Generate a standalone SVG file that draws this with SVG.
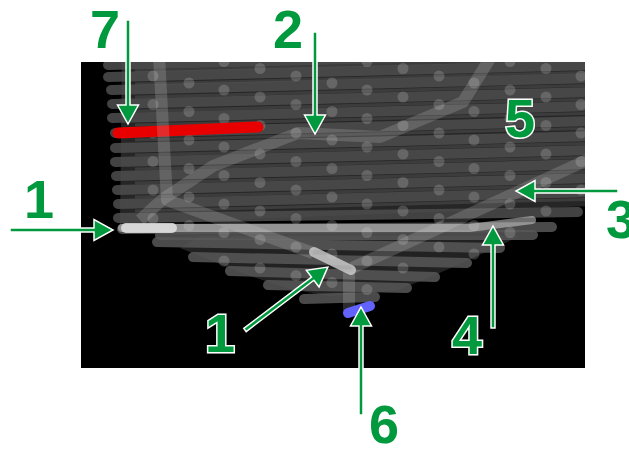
<svg xmlns="http://www.w3.org/2000/svg" width="629" height="449" viewBox="0 0 629 449">
<defs>
<clipPath id="clip"><rect x="81" y="62" width="504" height="306"/></clipPath>
<style>
.row{stroke:#4e4e4e;stroke-width:10;stroke-linecap:round;fill:none;opacity:.85}
.thin{stroke:#3c3c3c;stroke-width:3;fill:none}
.low{stroke:#575757;stroke-width:10;stroke-linecap:round;fill:none;opacity:.85}
.d{fill:#c8c8c8;opacity:.24}
.glow{stroke:#d8d8d8;stroke-opacity:.2;stroke-width:12;fill:none;stroke-linejoin:round;stroke-linecap:butt}
.lbl{font-family:"Liberation Sans",Arial,sans-serif;font-weight:bold;font-size:54px;fill:#00993d;stroke:#fff;stroke-width:3;paint-order:stroke}
.arr{fill:#00993d;stroke:#fff;stroke-width:1.5;stroke-linejoin:miter}
</style>
</defs>
<rect width="629" height="449" fill="#fff"/>
<g id="scene">
<rect x="81" y="62" width="504" height="306" fill="#000"/>
<g clip-path="url(#clip)">
<polygon points="122,50 590,50 590,206 120,224" fill="#262626"/>
<g id="thin-lines">
<line class="thin" x1="135" y1="71" x2="600" y2="59"/>
<line class="thin" x1="135" y1="84" x2="600" y2="72"/>
<line class="thin" x1="135" y1="97" x2="600" y2="85"/>
<line class="thin" x1="135" y1="111" x2="600" y2="99"/>
<line class="thin" x1="135" y1="125" x2="600" y2="113"/>
<line class="thin" x1="135" y1="140" x2="600" y2="128"/>
<line class="thin" x1="135" y1="155" x2="600" y2="143"/>
<line class="thin" x1="135" y1="169" x2="600" y2="157"/>
<line class="thin" x1="135" y1="183" x2="600" y2="171"/>
<line class="thin" x1="135" y1="197" x2="600" y2="185"/>
<line class="thin" x1="135" y1="211" x2="600" y2="199"/>
</g>
<g id="rows">
<line class="row" x1="108" y1="65" x2="600" y2="53"/>
<line class="row" x1="108" y1="77" x2="600" y2="65"/>
<line class="row" x1="111" y1="90" x2="600" y2="78"/>
<line class="row" x1="112" y1="104" x2="600" y2="92"/>
<line class="row" x1="112" y1="118" x2="600" y2="106"/>
<line class="row" x1="115" y1="133" x2="600" y2="121"/>
<line class="row" x1="115" y1="148" x2="600" y2="136"/>
<line class="row" x1="115" y1="162" x2="600" y2="150"/>
<line class="row" x1="116" y1="176" x2="600" y2="164"/>
<line class="row" x1="117" y1="190" x2="600" y2="178"/>
<line class="row" x1="118" y1="204" x2="600" y2="192"/>
<line class="row" x1="118" y1="218" x2="578" y2="212"/>
</g>
<polygon points="200,236 520,236 490,250 460,264 428,278 398,290 330,296 290,289 250,276 215,262 180,248" fill="#222"/>
<g id="lower-rows">
<line class="low" x1="122" y1="229" x2="552" y2="227"/>
<line class="low" x1="160" y1="235" x2="533" y2="235"/>
<line class="low" x1="157" y1="242" x2="500" y2="248"/>
<line class="low" x1="193" y1="257" x2="467" y2="263"/>
<line class="low" x1="230" y1="271" x2="435" y2="277"/>
<line class="low" x1="268" y1="285" x2="407" y2="288"/>
<line class="low" x1="304" y1="299" x2="375" y2="297"/>
</g>
<g id="dots">
<circle class="d" cx="153" cy="76" r="5.5"/><circle class="d" cx="153" cy="104.5" r="5.5"/><circle class="d" cx="153" cy="133" r="5.5"/><circle class="d" cx="153" cy="161.5" r="5.5"/><circle class="d" cx="153" cy="190" r="5.5"/><circle class="d" cx="153" cy="218.5" r="5.5"/>
<circle class="d" cx="189" cy="83" r="5.5"/><circle class="d" cx="189" cy="111.5" r="5.5"/><circle class="d" cx="189" cy="140" r="5.5"/><circle class="d" cx="189" cy="168.5" r="5.5"/><circle class="d" cx="189" cy="197" r="5.5"/><circle class="d" cx="189" cy="225.5" r="5.5"/>
<circle class="d" cx="224" cy="61.5" r="5.5"/><circle class="d" cx="224" cy="90" r="5.5"/><circle class="d" cx="224" cy="118.5" r="5.5"/><circle class="d" cx="224" cy="147" r="5.5"/><circle class="d" cx="224" cy="175.5" r="5.5"/><circle class="d" cx="224" cy="204" r="5.5"/><circle class="d" cx="224" cy="232.5" r="5.5"/><circle class="d" cx="224" cy="261" r="5.5"/>
<circle class="d" cx="260" cy="68.5" r="5.5"/><circle class="d" cx="260" cy="97" r="5.5"/><circle class="d" cx="260" cy="125.5" r="5.5"/><circle class="d" cx="260" cy="154" r="5.5"/><circle class="d" cx="260" cy="182.5" r="5.5"/><circle class="d" cx="260" cy="211" r="5.5"/><circle class="d" cx="260" cy="239.5" r="5.5"/><circle class="d" cx="260" cy="268" r="5.5"/>
<circle class="d" cx="296" cy="76" r="5.5"/><circle class="d" cx="296" cy="104.5" r="5.5"/><circle class="d" cx="296" cy="133" r="5.5"/><circle class="d" cx="296" cy="161.5" r="5.5"/><circle class="d" cx="296" cy="190" r="5.5"/><circle class="d" cx="296" cy="218.5" r="5.5"/><circle class="d" cx="296" cy="247" r="5.5"/><circle class="d" cx="296" cy="275.5" r="5.5"/>
<circle class="d" cx="332" cy="83" r="5.5"/><circle class="d" cx="332" cy="111.5" r="5.5"/><circle class="d" cx="332" cy="140" r="5.5"/><circle class="d" cx="332" cy="168.5" r="5.5"/><circle class="d" cx="332" cy="197" r="5.5"/><circle class="d" cx="332" cy="225.5" r="5.5"/><circle class="d" cx="332" cy="254" r="5.5"/><circle class="d" cx="332" cy="282.5" r="5.5"/>
<circle class="d" cx="367" cy="61.5" r="5.5"/><circle class="d" cx="367" cy="90" r="5.5"/><circle class="d" cx="367" cy="118.5" r="5.5"/><circle class="d" cx="367" cy="147" r="5.5"/><circle class="d" cx="367" cy="175.5" r="5.5"/><circle class="d" cx="367" cy="204" r="5.5"/><circle class="d" cx="367" cy="232.5" r="5.5"/><circle class="d" cx="367" cy="261" r="5.5"/><circle class="d" cx="367" cy="289.5" r="5.5"/>
<circle class="d" cx="403" cy="68.5" r="5.5"/><circle class="d" cx="403" cy="97" r="5.5"/><circle class="d" cx="403" cy="125.5" r="5.5"/><circle class="d" cx="403" cy="154" r="5.5"/><circle class="d" cx="403" cy="182.5" r="5.5"/><circle class="d" cx="403" cy="211" r="5.5"/><circle class="d" cx="403" cy="239.5" r="5.5"/><circle class="d" cx="403" cy="268" r="5.5"/>
<circle class="d" cx="439" cy="76" r="5.5"/><circle class="d" cx="439" cy="104.5" r="5.5"/><circle class="d" cx="439" cy="133" r="5.5"/><circle class="d" cx="439" cy="161.5" r="5.5"/><circle class="d" cx="439" cy="190" r="5.5"/><circle class="d" cx="439" cy="218.5" r="5.5"/><circle class="d" cx="439" cy="247" r="5.5"/>
<circle class="d" cx="474" cy="83" r="5.5"/><circle class="d" cx="474" cy="111.5" r="5.5"/><circle class="d" cx="474" cy="140" r="5.5"/><circle class="d" cx="474" cy="168.5" r="5.5"/><circle class="d" cx="474" cy="197" r="5.5"/><circle class="d" cx="474" cy="225.5" r="5.5"/><circle class="d" cx="474" cy="254" r="5.5"/>
<circle class="d" cx="510" cy="61.5" r="5.5"/><circle class="d" cx="510" cy="90" r="5.5"/><circle class="d" cx="510" cy="118.5" r="5.5"/><circle class="d" cx="510" cy="147" r="5.5"/><circle class="d" cx="510" cy="175.5" r="5.5"/><circle class="d" cx="510" cy="204" r="5.5"/><circle class="d" cx="510" cy="232.5" r="5.5"/>
<circle class="d" cx="546" cy="68.5" r="5.5"/><circle class="d" cx="546" cy="97" r="5.5"/><circle class="d" cx="546" cy="125.5" r="5.5"/><circle class="d" cx="546" cy="154" r="5.5"/><circle class="d" cx="546" cy="182.5" r="5.5"/><circle class="d" cx="546" cy="211" r="5.5"/>
<circle class="d" cx="581" cy="76" r="5.5"/><circle class="d" cx="581" cy="104.5" r="5.5"/><circle class="d" cx="581" cy="133" r="5.5"/><circle class="d" cx="581" cy="161.5" r="5.5"/><circle class="d" cx="581" cy="190" r="5.5"/>
</g>
<line x1="118" y1="133" x2="258" y2="127" stroke="#e80000" stroke-width="11" stroke-linecap="round"/>
<g id="traces">
<path class="glow" d="M159,56 L167,200 L313,253"/>
<path class="glow" d="M349,272 L349,312" stroke-width="11"/>
<path class="glow" d="M140,220 L163,199 L213,166 L298,133 L380,137 L463,102 L494,52"/>
<path class="glow" d="M352,268 L600,154"/>
<path d="M122,228 L470,228 L532,220" fill="none" stroke="#dcdcdc" stroke-opacity=".5" stroke-width="8" stroke-linecap="round" stroke-linejoin="round"/>
<line x1="126" y1="228" x2="172" y2="228" stroke="#e2e2e2" stroke-opacity=".85" stroke-width="10" stroke-linecap="round"/>
<line x1="314" y1="252" x2="351" y2="270" stroke="#cfcfcf" stroke-opacity=".8" stroke-width="10" stroke-linecap="round"/>
</g>
<line x1="348" y1="313" x2="370" y2="306" stroke="#6262ff" stroke-width="10" stroke-linecap="round"/>
</g>
</g>
<g id="connectors">
<polygon class="arr" transform="translate(128,20) rotate(90)" points="0,-2 85,-2 85,-10.5 104,0 85,10.5 85,2 0,2"/>
<polygon class="arr" transform="translate(315,32) rotate(90)" points="0,-2 83,-2 83,-10.5 102,0 83,10.5 83,2 0,2"/>
<polygon class="arr" transform="translate(10,230)" points="0,-2 84,-2 84,-10.5 103,0 84,10.5 84,2 0,2"/>
<polygon class="arr" transform="translate(618,191) rotate(180)" points="0,-2 83,-2 83,-10.5 102,0 83,10.5 83,2 0,2"/>
<polygon class="arr" transform="translate(245,330) rotate(-37.2)" points="0,-2 85,-2 85,-10.5 104,0 85,10.5 85,2 0,2"/>
<polygon class="arr" transform="translate(493,328) rotate(-90)" points="0,-2 83,-2 83,-10.5 102,0 83,10.5 83,2 0,2"/>
<polygon class="arr" transform="translate(361,415) rotate(-90)" points="0,-2 89,-2 89,-10.5 108,0 89,10.5 89,2 0,2"/>
</g>
<g id="label-7"><text class="lbl" x="90" y="48">7</text></g>
<g id="label-2"><text class="lbl" x="273" y="48">2</text></g>
<g id="label-5"><text class="lbl" x="505" y="137">5</text></g>
<g id="label-1a"><text class="lbl" x="24" y="218">1</text></g>
<g id="label-3"><text class="lbl" x="606" y="238">3</text></g>
<g id="label-1b"><text class="lbl" x="205" y="352">1</text></g>
<g id="label-4"><text class="lbl" x="452" y="354">4</text></g>
<g id="label-6"><text class="lbl" x="369" y="443">6</text></g>
</svg>
